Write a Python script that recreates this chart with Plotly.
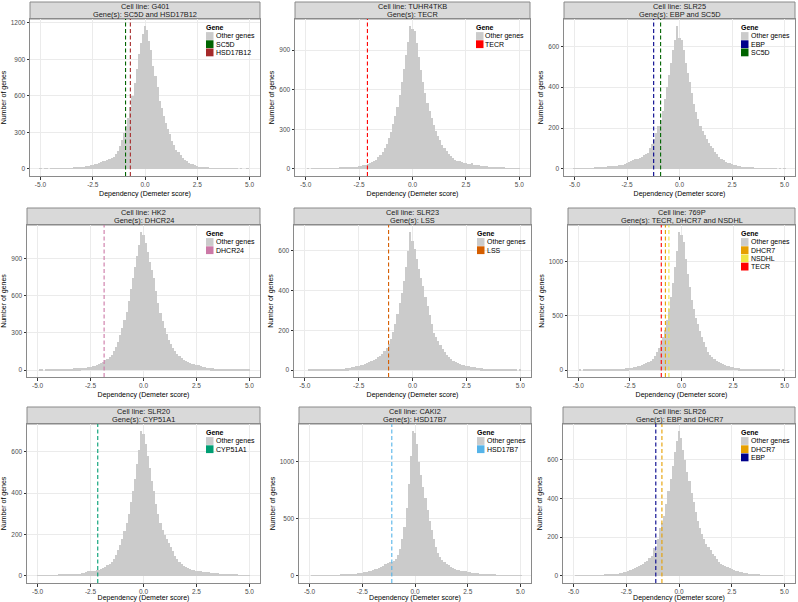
import plotly.graph_objects as go

# ---------------- data ----------------
BIN_START = -5.0
BIN_WIDTH = 0.1

CELL_LINES = ["G401", "TUHR4TKB", "SLR25", "HK2", "SLR23", "769P", "SLR20", "CAKI2", "SLR26"]
GENE_TITLES = ["SC5D and HSD17B12", "TECR", "EBP and SC5D", "DHCR24", "LSS",
               "TECR, DHCR7 and NSDHL", "CYP51A1", "HSD17B7", "EBP and DHCR7"]

# counts per 0.1-wide bin, bins centred on -5.0, -4.9, ... , 5.0
COUNTS_G401 = [1, 0, 1, 1, 0, 2, 1, 2, 2, 3,
               3, 4, 4, 5, 6, 7, 8, 10, 11, 12,
               14, 17, 20, 24, 29, 34, 39, 44, 50, 56,
               62, 68, 76, 80, 88, 98, 118, 150, 185, 240,
               296, 350, 420, 505, 600, 707, 820, 940, 1030, 1110,
               1172, 1140, 1050, 975, 845, 762, 670, 560, 500, 435,
               378, 325, 285, 228, 195, 159, 135, 112, 92, 76,
               63, 52, 44, 36, 28, 22, 18, 14, 11, 9,
               8, 7, 6, 5, 4, 4, 3, 3, 2, 2,
               2, 1, 1, 1, 1, 0, 1, 0, 0, 1,
               0]
COUNTS_TUHR4TKB = [0, 1, 0, 1, 1, 1, 2, 1, 2, 3,
                   5, 3, 4, 5, 5, 6, 7, 8, 9, 9,
                   10, 11, 13, 14, 16, 18, 22, 26, 31, 37,
                   43, 50, 58, 70, 88, 106, 125, 155, 190, 232,
                   282, 340, 400, 470, 560, 660, 760, 860, 960, 1081,
                   1063, 1045, 950, 850, 750, 660, 575, 500, 440, 385,
                   333, 290, 250, 215, 180, 156, 135, 115, 95, 80,
                   68, 62, 58, 52, 48, 43, 40, 36, 45, 32,
                   30, 28, 25, 22, 20, 18, 16, 14, 12, 11,
                   10, 9, 8, 7, 6, 5, 4, 4, 3, 2,
                   2]
COUNTS_SLR25 = [1, 1, 2, 1, 2, 2, 3, 3, 4, 4,
                5, 5, 6, 7, 8, 10, 12, 14, 15, 15,
                16, 17, 18, 19, 22, 31, 36, 40, 43, 46,
                48, 55, 60, 66, 72, 80, 100, 120, 145, 175,
                212, 240, 285, 340, 400, 458, 520, 580, 630, 699,
                641, 632, 580, 520, 470, 425, 370, 320, 280, 245,
                212, 185, 165, 145, 128, 113, 100, 85, 72, 60,
                48, 42, 36, 31, 27, 23, 20, 17, 15, 12,
                10, 9, 8, 7, 6, 5, 4, 4, 3, 3,
                2, 2, 2, 1, 1, 1, 1, 0, 1, 0,
                1]
COUNTS_HK2 = [0, 1, 1, 0, 1, 1, 2, 2, 2, 3,
              3, 4, 5, 6, 8, 11, 12, 13, 14, 15,
              16, 17, 19, 20, 22, 24, 30, 36, 42, 50,
              59, 68, 78, 90, 105, 125, 155, 190, 230, 280,
              339, 400, 470, 560, 650, 740, 830, 920, 1010, 1113,
              1087, 1020, 950, 870, 810, 740, 640, 540, 460, 395,
              340, 290, 245, 210, 180, 152, 130, 112, 96, 82,
              72, 64, 58, 52, 48, 45, 38, 33, 28, 24,
              20, 18, 16, 14, 12, 10, 9, 8, 7, 6,
              5, 5, 4, 3, 3, 2, 2, 2, 1, 1,
              1]
COUNTS_SLR23 = [0, 0, 1, 1, 1, 1, 2, 2, 2, 3,
                3, 3, 4, 4, 5, 5, 6, 7, 8, 9,
                10, 12, 14, 17, 20, 22, 25, 28, 31, 35,
                39, 44, 50, 56, 64, 72, 82, 96, 112, 132,
                156, 190, 230, 280, 335, 390, 450, 520, 600, 695,
                650, 610, 560, 510, 465, 424, 370, 320, 275, 230,
                189, 165, 145, 125, 105, 89, 78, 68, 58, 48,
                39, 36, 33, 28, 25, 22, 20, 18, 16, 14,
                12, 11, 10, 8, 7, 6, 5, 5, 4, 4,
                3, 3, 2, 2, 2, 1, 1, 1, 1, 0,
                1]
COUNTS_769P = [0, 1, 0, 1, 1, 1, 1, 2, 2, 2,
               3, 3, 4, 4, 5, 6, 7, 8, 9, 10,
               11, 12, 13, 15, 17, 19, 22, 26, 30, 35,
               40, 46, 54, 62, 74, 87, 105, 130, 162, 200,
               242, 300, 370, 460, 560, 676, 800, 950, 1100, 1271,
               1240, 1180, 1020, 880, 760, 645, 560, 480, 420, 360,
               304, 255, 210, 170, 140, 118, 100, 86, 74, 64,
               56, 49, 42, 36, 30, 25, 22, 19, 16, 14,
               12, 10, 9, 8, 7, 6, 5, 4, 4, 3,
               3, 2, 2, 2, 1, 1, 1, 1, 0, 1,
               0]
COUNTS_SLR20 = [1, 1, 1, 2, 1, 2, 2, 3, 3, 3,
                4, 4, 5, 6, 7, 8, 8, 9, 10, 10,
                11, 13, 15, 20, 24, 25, 22, 23, 26, 30,
                33, 38, 44, 50, 57, 65, 80, 100, 125, 150,
                180, 215, 255, 300, 355, 409, 470, 540, 610, 700,
                687, 640, 580, 520, 460, 409, 350, 300, 255, 220,
                196, 180, 160, 140, 118, 98, 80, 65, 55, 47,
                41, 36, 32, 28, 26, 25, 23, 22, 20, 19,
                18, 17, 15, 14, 13, 12, 10, 9, 8, 7,
                6, 5, 5, 4, 4, 3, 3, 2, 2, 2,
                1]
COUNTS_CAKI2 = [0, 1, 1, 1, 1, 2, 2, 2, 3, 3,
                4, 4, 5, 6, 6, 7, 8, 9, 11, 13,
                15, 17, 19, 21, 24, 27, 31, 36, 41, 46,
                51, 56, 62, 70, 80, 90, 100, 110, 118, 122,
                130, 150, 180, 235, 320, 430, 590, 800, 1050, 1266,
                1250, 1150, 1000, 880, 780, 680, 580, 483, 400, 320,
                250, 200, 165, 140, 120, 105, 92, 80, 68, 58,
                51, 47, 44, 41, 38, 36, 32, 28, 25, 22,
                20, 18, 16, 14, 12, 10, 9, 8, 7, 6,
                5, 4, 4, 3, 3, 2, 2, 2, 1, 1,
                1]
COUNTS_SLR26 = [0, 1, 1, 1, 1, 1, 2, 2, 2, 2,
                3, 3, 3, 4, 4, 5, 5, 6, 7, 8,
                9, 11, 13, 15, 18, 21, 25, 29, 34, 39,
                44, 49, 55, 62, 70, 79, 90, 105, 145, 130,
                192, 245, 275, 310, 370, 437, 500, 570, 640, 700,
                749, 715, 650, 600, 540, 490, 430, 380, 330, 285,
                245, 215, 190, 165, 148, 131, 115, 100, 85, 72,
                61, 55, 49, 44, 39, 35, 31, 27, 23, 20,
                17, 15, 13, 11, 10, 8, 7, 6, 5, 4,
                4, 3, 3, 2, 2, 2, 1, 1, 1, 1,
                0]
COUNTS = [COUNTS_G401, COUNTS_TUHR4TKB, COUNTS_SLR25, COUNTS_HK2, COUNTS_SLR23,
          COUNTS_769P, COUNTS_SLR20, COUNTS_CAKI2, COUNTS_SLR26]

# highlighted genes (legend order) and their dependency scores
PANEL_GENES = [["SC5D", "HSD17B12"], ["TECR"], ["EBP", "SC5D"], ["DHCR24"], ["LSS"],
               ["DHCR7", "NSDHL", "TECR"], ["CYP51A1"], ["HSD17B7"], ["DHCR7", "EBP"]]
PANEL_SCORES = [[-0.93, -0.70], [-2.11], [-1.23, -0.90], [-1.86], [-1.11],
                [-0.78, -0.61, -0.98], [-2.16], [-1.10], [-0.81, -1.10]]

X_TICKS = [-5.0, -2.5, 0.0, 2.5, 5.0]
Y_DTICK = [300, 300, 200, 300, 200, 500, 200, 500, 200]

# ---------------- style ----------------
GENE_COLORS = {"SC5D": "#006400", "HSD17B12": "#A52A2A", "TECR": "#FF0000", "EBP": "#00008B",
               "DHCR24": "#CC79A7", "LSS": "#D55E00", "DHCR7": "#E69F00", "NSDHL": "#F0E442",
               "CYP51A1": "#009E73", "HSD17B7": "#56B4E9"}
HIST_COLOR = "#CBCBCB"
W, H = 798, 602
FONT = "Liberation Sans, Arial, sans-serif"
# panel plot boxes in pixels: (left, right, top, bottom)
BOXES = [(30, 260, 19, 176), (295, 530, 19, 176), (564, 795, 19, 176),
         (27, 260, 225, 377), (294, 531, 225, 377), (568, 795, 225, 377),
         (27, 260, 424, 583), (299, 531, 424, 583), (563, 795, 424, 583)]
STRIP_H = 17


def px(x):
    return x / W


def py(y):
    return 1 - y / H


fig = go.Figure()
shapes = []
annotations = []
layout = {}

for i, counts in enumerate(COUNTS):
    assert len(counts) == 101
    k = i + 1
    xa = "x" if k == 1 else f"x{k}"
    ya = "y" if k == 1 else f"y{k}"
    centers = [round(BIN_START + j * BIN_WIDTH, 2) for j in range(len(counts))]
    fig.add_trace(go.Bar(x=centers, y=counts, width=BIN_WIDTH, name="Other genes",
                         marker=dict(color=HIST_COLOR, line=dict(width=0)),
                         xaxis=xa, yaxis=ya, showlegend=False, hoverinfo="x+y"))
    l, r, t, b = BOXES[i]
    m = max(counts)
    layout["xaxis" if k == 1 else f"xaxis{k}"] = dict(
        domain=[px(l), px(r)], anchor=ya, range=[-5.5, 5.5],
        tickvals=X_TICKS, ticktext=[f"{v:.1f}" for v in X_TICKS],
        ticks="outside", ticklen=2.5, tickcolor="#333333", tickwidth=0.8,
        tickfont=dict(size=6.5, color="#4D4D4D", family=FONT),
        showgrid=True, gridcolor="#EBEBEB", gridwidth=1, zeroline=False,
        showline=True, mirror=True, linecolor="#8A8A8A", linewidth=1,
        title=dict(text="Dependency (Demeter score)", font=dict(size=7, color="#000000", family=FONT), standoff=3),
        automargin=False)
    layout["yaxis" if k == 1 else f"yaxis{k}"] = dict(
        domain=[py(b), py(t)], anchor=xa, range=[-0.05 * m, 1.05 * m],
        tick0=0, dtick=Y_DTICK[i], tickformat="d",
        ticks="outside", ticklen=2.5, tickcolor="#333333", tickwidth=0.8,
        tickfont=dict(size=6.5, color="#4D4D4D", family=FONT),
        showgrid=True, gridcolor="#EBEBEB", gridwidth=1, zeroline=False,
        showline=True, mirror=True, linecolor="#8A8A8A", linewidth=1,
        title=dict(text="Number of genes", font=dict(size=7, color="#000000", family=FONT), standoff=3),
        automargin=False)

    # dashed lines for the highlighted genes
    for g, s in zip(PANEL_GENES[i], PANEL_SCORES[i]):
        shapes.append(dict(type="line", xref=xa, yref=f"{ya} domain", x0=s, x1=s, y0=0, y1=1,
                           line=dict(color=GENE_COLORS[g], width=1.1, dash="4px,2.5px"), layer="above"))

    # facet strip
    shapes.append(dict(type="rect", xref="paper", yref="paper", x0=px(l), x1=px(r),
                       y0=py(t), y1=py(t - STRIP_H), fillcolor="#D9D9D9",
                       line=dict(color="#8A8A8A", width=1), layer="below"))
    cx = px((l + r) / 2)
    annotations.append(dict(xref="paper", yref="paper", x=cx, y=py(t - STRIP_H + 4.5),
                            text=f"Cell line: {CELL_LINES[i]}", showarrow=False,
                            xanchor="center", yanchor="middle", borderpad=0,
                            font=dict(size=7.4, color="#1A1A1A", family=FONT)))
    annotations.append(dict(xref="paper", yref="paper", x=cx, y=py(t - STRIP_H + 12.5),
                            text=f"Gene(s): {GENE_TITLES[i]}", showarrow=False,
                            xanchor="center", yanchor="middle", borderpad=0,
                            font=dict(size=7.4, color="#1A1A1A", family=FONT)))

    # legend inside panel (top right)
    kx0 = r - 54
    annotations.append(dict(xref="paper", yref="paper", x=px(kx0 - 1), y=py(t + 8.5),
                            text="<b>Gene</b>", showarrow=False, xanchor="left", yanchor="middle",
                            borderpad=0, font=dict(size=7.0, color="#000000", family=FONT)))
    entries = [("Other genes", HIST_COLOR)] + [(g, GENE_COLORS[g]) for g in PANEL_GENES[i]]
    for j, (name, col) in enumerate(entries):
        cy = t + 17 + 8.2 * j
        shapes.append(dict(type="rect", xref="paper", yref="paper",
                           x0=px(kx0), x1=px(kx0 + 7.5), y0=py(cy + 3.9), y1=py(cy - 3.9),
                           fillcolor=col, line=dict(width=0), layer="above"))
        annotations.append(dict(xref="paper", yref="paper", x=px(kx0 + 8.5), y=py(cy),
                                text=name, showarrow=False, xanchor="left", yanchor="middle",
                                borderpad=0, font=dict(size=7.0, color="#000000", family=FONT)))

fig.update_layout(**layout)
fig.update_layout(width=W, height=H, margin=dict(l=0, r=0, t=0, b=0),
                  paper_bgcolor="white", plot_bgcolor="white", bargap=0,
                  shapes=shapes, annotations=annotations, showlegend=False,
                  font=dict(family=FONT))
fig.write_html("out.html", config={"displayModeBar": False},
               post_script="document.body.style.margin='0px';")
